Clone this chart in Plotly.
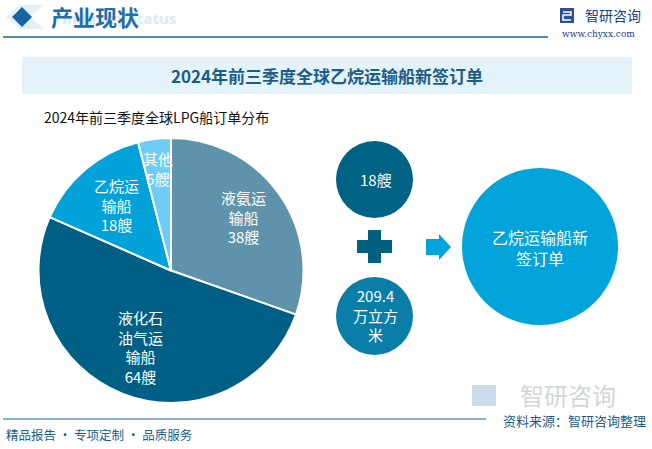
import plotly.graph_objects as go

W, H = 652, 449

# ---- data ----
categories = ["液氨运输船", "液化石油气运输船", "乙烷运输船", "其他"]
ship_counts = [38, 64, 18, 5]
label_names = ["液氨运<br>输船", "液化石<br>油气运<br>输船", "乙烷运<br>输船", "其他"]
unit = "艘"
ethane_ships = 18
ethane_capacity = "209.4"
capacity_unit = "万立方<br>米"
result_lines = ["乙烷运输船新", "签订单"]
title = "2024年前三季度全球乙烷运输船新签订单"
subtitle = "2024年前三季度全球LPG船订单分布"

# ---- style ----
slice_colors = ["#5e93ab", "#005f84", "#00a2d9", "#6dcdf4"]
FONT = "Noto Sans CJK SC"
DARK = "#1b5d86"


def fx(x):
    return x / W


def fy(y):
    return 1 - y / H


fig = go.Figure()
fig.add_trace(go.Pie(
    labels=categories,
    values=ship_counts,
    sort=False,
    direction="clockwise",
    rotation=0,
    marker=dict(colors=slice_colors, line=dict(color="white", width=2)),
    textinfo="none",
    showlegend=False,
    domain=dict(x=[fx(38), fx(304)], y=[fy(403), fy(138)]),
))

shapes = []
annotations = []

# header
shapes.append(dict(type="path", xref="paper", yref="paper",
                   path=f"M {fx(6)} {fy(17)} L {fx(20)} {fy(5)} L {fx(44)} {fy(5)} L {fx(30)} {fy(17)} L {fx(44)} {fy(29)} L {fx(20)} {fy(29)} Z",
                   fillcolor="#e4f0f8", line=dict(width=0), layer="below"))
shapes.append(dict(type="path", xref="paper", yref="paper",
                   path=f"M {fx(12)} {fy(17)} L {fx(22)} {fy(7)} L {fx(32)} {fy(17)} L {fx(22)} {fy(27)} Z",
                   fillcolor="#1565a6", line=dict(width=0)))
annotations.append(dict(x=fx(60), y=fy(18), xref="paper", yref="paper", xanchor="left", yanchor="middle",
                        text="<b>Industry status</b>", showarrow=False,
                        font=dict(family="Open Sans", size=15, color="#d8ebf7")))
annotations.append(dict(x=fx(49), y=fy(16), xref="paper", yref="paper", xanchor="left", yanchor="middle",
                        text="<b>产业现状</b>", showarrow=False,
                        font=dict(family=FONT, size=22, color="#1f6ea8")))
shapes.append(dict(type="line", xref="paper", yref="paper", x0=fx(3), x1=fx(548), y0=fy(37), y1=fy(37),
                   line=dict(color="#1a6496", width=1.5)))

# logo top right
shapes.append(dict(type="rect", xref="paper", yref="paper", x0=fx(560), x1=fx(574), y0=fy(23), y1=fy(8),
                   fillcolor="#2b4f9a", line=dict(width=0)))
shapes.append(dict(type="path", xref="paper", yref="paper",
                   path=f"M {fx(563)} {fy(12)} L {fx(571)} {fy(12)} L {fx(571)} {fy(15)} L {fx(563)} {fy(15)} L {fx(563)} {fy(20)} L {fx(571)} {fy(20)}",
                   line=dict(color="white", width=1.5)))
annotations.append(dict(x=fx(583), y=fy(15), xref="paper", yref="paper", xanchor="left", yanchor="middle",
                        text="智研咨询", showarrow=False,
                        font=dict(family=FONT, size=14, color="#22407f")))
annotations.append(dict(x=fx(637), y=fy(34), xref="paper", yref="paper", xanchor="right", yanchor="middle",
                        text="www.chyxx.com", showarrow=False,
                        font=dict(family="DejaVu Serif", size=9, color="#22407f")))

# title band
shapes.append(dict(type="rect", xref="paper", yref="paper", x0=fx(22), x1=fx(632), y0=fy(94), y1=fy(57),
                   fillcolor="#e4f2fa", line=dict(width=0), layer="below"))
annotations.append(dict(x=fx(327), y=fy(75), xref="paper", yref="paper", xanchor="center", yanchor="middle",
                        text=f"<b>{title}</b>", showarrow=False,
                        font=dict(family=FONT, size=17, color=DARK)))
annotations.append(dict(x=fx(42), y=fy(117), xref="paper", yref="paper", xanchor="left", yanchor="middle",
                        text=subtitle, showarrow=False,
                        font=dict(family=FONT, size=14, color="#111111")))

# pie labels
label_pos = [(243, 217), (140, 347), (116, 205), (158, 168)]
for name, val, (lx, ly) in zip(label_names, ship_counts, label_pos):
    annotations.append(dict(x=fx(lx), y=fy(ly), xref="paper", yref="paper", xanchor="center", yanchor="middle",
                            text=f"{name}<br>{val}{unit}", showarrow=False,
                            font=dict(family=FONT, size=15, color="white")))

# circles
shapes.append(dict(type="circle", xref="paper", yref="paper", x0=fx(336), x1=fx(413), y0=fy(218), y1=fy(141),
                   fillcolor="#006384", line=dict(width=0)))
annotations.append(dict(x=fx(376), y=fy(179), xref="paper", yref="paper", xanchor="center", yanchor="middle",
                        text=f"{ethane_ships}{unit}", showarrow=False,
                        font=dict(family=FONT, size=15, color="white")))
shapes.append(dict(type="rect", xref="paper", yref="paper", x0=fx(368), x1=fx(381), y0=fy(263), y1=fy(230),
                   fillcolor="#00607f", line=dict(width=0)))
shapes.append(dict(type="rect", xref="paper", yref="paper", x0=fx(357), x1=fx(392), y0=fy(253), y1=fy(240),
                   fillcolor="#00607f", line=dict(width=0)))
shapes.append(dict(type="circle", xref="paper", yref="paper", x0=fx(336), x1=fx(413), y0=fy(355), y1=fy(277),
                   fillcolor="#0a7ea7", line=dict(width=0)))
annotations.append(dict(x=fx(375), y=fy(315), xref="paper", yref="paper", xanchor="center", yanchor="middle",
                        text=f"{ethane_capacity}<br>{capacity_unit}", showarrow=False,
                        font=dict(family=FONT, size=15, color="white")))
shapes.append(dict(type="path", xref="paper", yref="paper",
                   path=f"M {fx(426)} {fy(239)} L {fx(439)} {fy(239)} L {fx(439)} {fy(234)} L {fx(451)} {fy(247)} L {fx(439)} {fy(260)} L {fx(439)} {fy(255)} L {fx(426)} {fy(255)} Z",
                   fillcolor="#00a3da", line=dict(width=0)))
shapes.append(dict(type="circle", xref="paper", yref="paper", x0=fx(462), x1=fx(618), y0=fy(325), y1=fy(168),
                   fillcolor="#00a3da", line=dict(width=0)))
annotations.append(dict(x=fx(540), y=fy(247), xref="paper", yref="paper", xanchor="center", yanchor="middle",
                        text="<br>".join(result_lines), showarrow=False,
                        font=dict(family=FONT, size=16, color="white")))

# watermark bottom right
annotations.append(dict(x=fx(568), y=fy(394), xref="paper", yref="paper", xanchor="center", yanchor="middle",
                        text="智研咨询", showarrow=False,
                        font=dict(family=FONT, size=24, color="#d2d6da")))
shapes.append(dict(type="rect", xref="paper", yref="paper", x0=fx(472), x1=fx(496), y0=fy(406), y1=fy(385),
                   fillcolor="#cddcea", line=dict(width=0), layer="below"))

# footer
shapes.append(dict(type="line", xref="paper", yref="paper", x0=fx(3), x1=fx(486), y0=fy(419), y1=fy(419),
                   line=dict(color="#1a6496", width=1.2)))
annotations.append(dict(x=fx(648), y=fy(420), xref="paper", yref="paper", xanchor="right", yanchor="middle",
                        text="资料来源：智研咨询整理", showarrow=False,
                        font=dict(family=FONT, size=13, color=DARK)))
annotations.append(dict(x=fx(4), y=fy(434), xref="paper", yref="paper", xanchor="left", yanchor="middle",
                        text="精品报告 · 专项定制 · 品质服务", showarrow=False,
                        font=dict(family=FONT, size=12.5, color=DARK)))

fig.update_layout(
    width=W, height=H,
    margin=dict(l=0, r=0, t=0, b=0),
    paper_bgcolor="white",
    plot_bgcolor="white",
    shapes=shapes,
    annotations=annotations,
    font=dict(family=FONT),
)

fig.write_html("out.html")
